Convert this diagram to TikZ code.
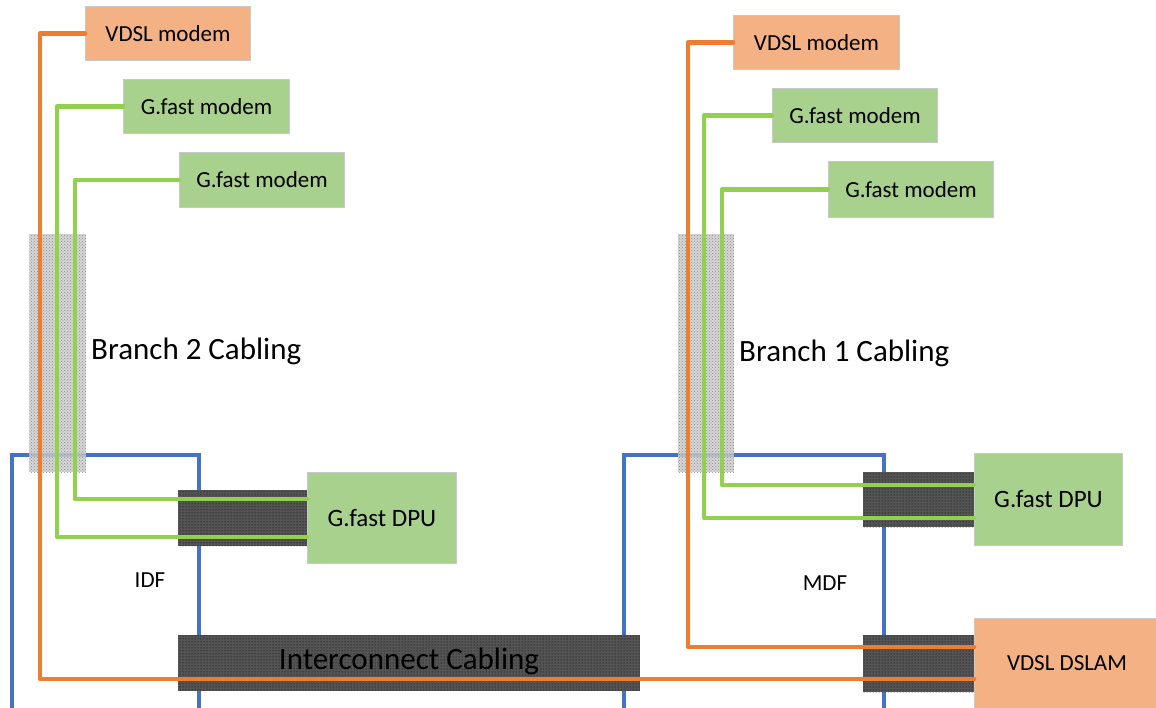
\documentclass[tikz,border=0pt]{standalone}
\usepackage{fontspec}
\setmainfont{Carlito}
\usetikzlibrary{patterns}
\definecolor{vdslfill}{HTML}{F4B183}
\definecolor{gfastfill}{HTML}{A9D18E}
\definecolor{oline}{HTML}{ED7D31}
\definecolor{gline}{HTML}{92D050}
\definecolor{framecol}{HTML}{4472C4}
\definecolor{boxedge}{HTML}{C9C9C9}
\definecolor{darkbundle}{HTML}{545454}
\definecolor{lightbundle}{HTML}{CFCFCF}
\begin{document}
\begin{tikzpicture}[x=1pt,y=-1pt,
  box/.style={draw=boxedge, line width=1pt, inner sep=0pt, anchor=north west, text=black},
  modem/.style={box, font=\fontsize{23}{26}\selectfont},
  vdsl/.style={fill=vdslfill},
  gfast/.style={fill=gfastfill},
  framebox/.style={draw=framecol, line width=3.5pt, inner sep=0pt, anchor=north west},
  darkbd/.style={inner sep=0pt, anchor=north west, preaction={fill=darkbundle}, pattern=dots, pattern color=black},
  lightbd/.style={inner sep=0pt, anchor=north west, preaction={fill=lightbundle, fill opacity=0.85}, pattern=crosshatch dots, pattern color=gray!90},
  ocable/.style={draw=oline, line width=4.6pt, line join=round, line cap=round},
  gcable/.style={draw=gline, line width=4.6pt, line join=round, line cap=round},
  biglabel/.style={font=\fontsize{31}{34}\selectfont, inner sep=0pt},
  midlabel/.style={font=\fontsize{23}{26}\selectfont, inner sep=0pt}
]
\useasboundingbox[fill=white] (0,0) rectangle (1156,708);

% frames
\node[framebox, minimum width=187pt, minimum height=262pt] (idf) at (10,453) {};
\node[framebox, minimum width=260pt, minimum height=262pt] (mdf) at (622,453) {};

% cable bundles
\node[lightbd, minimum width=57pt, minimum height=238pt] (br2) at (29,234) {};
\node[lightbd, minimum width=56pt, minimum height=238pt] (br1) at (678,234) {};
\node[darkbd, minimum width=129pt, minimum height=56pt] (bd2) at (178,490) {};
\node[darkbd, minimum width=111pt, minimum height=55pt] (bd1) at (863,472) {};
\node[darkbd, minimum width=111pt, minimum height=57pt] (bd0) at (863,635) {};
\node[darkbd, minimum width=462pt, minimum height=56pt] (ic) at (178,635) {};
\node[biglabel, anchor=center] (iclabel) at (409,661) {Interconnect Cabling};

% labels
\node[biglabel, anchor=west] (lb2) at (91,351) {Branch 2 Cabling};
\node[biglabel, anchor=west] (lb1) at (739,353) {Branch 1 Cabling};
\node[midlabel] (lidf) at (150,580) {IDF};
\node[midlabel] (lmdf) at (825,583) {MDF};

% equipment
\node[modem, vdsl, minimum width=165pt, minimum height=54pt] (vm2) at (85,6) {VDSL modem};
\node[modem, gfast, minimum width=166pt, minimum height=54pt] (gm2a) at (123,79) {G.fast modem};
\node[modem, gfast, minimum width=165pt, minimum height=55pt] (gm2b) at (179,152) {G.fast modem};
\node[modem, vdsl, minimum width=166pt, minimum height=54pt] (vm1) at (733,15) {VDSL modem};
\node[modem, gfast, minimum width=165pt, minimum height=54pt] (gm1a) at (772,88) {G.fast modem};
\node[modem, gfast, minimum width=165pt, minimum height=56pt] (gm1b) at (828,161) {G.fast modem};
\node[box, gfast, font=\fontsize{25}{28}\selectfont, minimum width=149pt, minimum height=91pt] (dpu2) at (307,472) {G.fast DPU};
\node[box, gfast, font=\fontsize{25}{28}\selectfont, minimum width=148pt, minimum height=92pt] (dpu1) at (974,453) {G.fast DPU};
\node[box, vdsl, minimum width=190pt, minimum height=96pt] (dslam) at (974,618) {};
\node[midlabel] (dslamlabel) at (1067,663) {VDSL DSLAM};

% cables
\draw[ocable] (vm2.west) -- ++(-45,0) |- ([yshift=-61pt]dslam.north west);
\draw[ocable] (vm1.west) -- ++(-45,0) |- ([yshift=-29pt]dslam.north west);
\draw[gcable] (gm2a.west) -- ++(-66,0) |- ([yshift=-65pt]dpu2.north west);
\draw[gcable] (gm2b.west) -- ++(-104,0) |- ([yshift=-27pt]dpu2.north west);
\draw[gcable] (gm1a.west) -- ++(-68,0) |- ([yshift=-65pt]dpu1.north west);
\draw[gcable] (gm1b.west) -- ++(-106,0) |- ([yshift=-32pt]dpu1.north west);
\end{tikzpicture}
\end{document}
